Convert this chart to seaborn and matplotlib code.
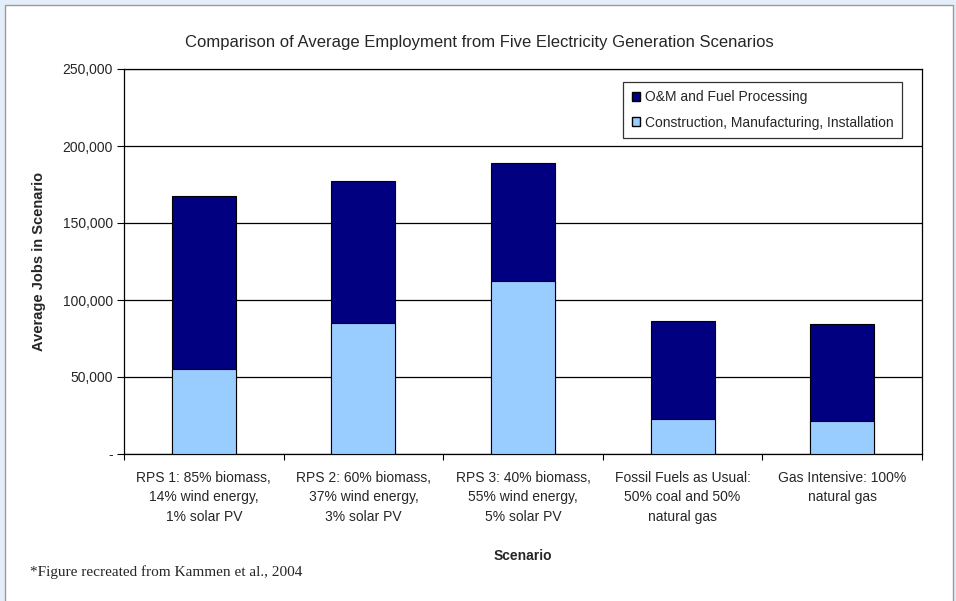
import numpy as np
import pandas as pd
import seaborn as sns
import matplotlib.pyplot as plt
from matplotlib.patches import Rectangle, Patch
from matplotlib.ticker import FuncFormatter

# values (jobs)
scenarios = ["RPS 1: 85% biomass,\n14% wind energy,\n1% solar PV",
             "RPS 2: 60% biomass,\n37% wind energy,\n3% solar PV",
             "RPS 3: 40% biomass,\n55% wind energy,\n5% solar PV",
             "Fossil Fuels as Usual:\n50% coal and 50%\nnatural gas",
             "Gas Intensive: 100%\nnatural gas"]
construction = [55200, 85000, 112300, 22700, 21400]
om_fuel = [112300, 92300, 76700, 63700, 63000]

df = pd.DataFrame({"Scenario": scenarios,
                   "Construction": construction,
                   "OM": om_fuel})
df["Total"] = df["Construction"] + df["OM"]

sns.set_style("white")
plt.rcParams['font.family'] = ['Liberation Sans', 'DejaVu Sans']

fig = plt.figure(figsize=(9.56, 6.01), dpi=100)
fig.patch.set_facecolor("#E4EEF8")
# white page with grey border
fig.add_artist(Rectangle((5 / 956, -0.01), 948 / 956, 596 / 601 + 0.01, transform=fig.transFigure,
                         facecolor="white", edgecolor="#9A9A9A", linewidth=1, zorder=-5))

ax = fig.add_axes([124 / 956, 1 - 454 / 601, 798 / 956, 385 / 601])
ax.set_zorder(1)
dark = "#000080"
light = "#99CCFF"
sns.barplot(data=df, x="Scenario", y="Total", color=dark, edgecolor="black",
            linewidth=0.8, width=0.4, saturation=1, ax=ax, zorder=3)
sns.barplot(data=df, x="Scenario", y="Construction", color=light, edgecolor="black",
            linewidth=0.8, width=0.4, saturation=1, ax=ax, zorder=3)

ax.set_ylim(0, 250000)
ax.set_xlim(-0.5, 4.5)
ax.set_yticks(np.arange(0, 250001, 50000))
ax.yaxis.set_major_formatter(FuncFormatter(lambda v, p: "-" if v == 0 else f"{int(v):,}"))
ax.yaxis.grid(True, color="black", linewidth=0.9, zorder=0)
ax.set_axisbelow(True)
for s in ax.spines.values():
    s.set_color("black")
    s.set_linewidth(0.9)

ax.tick_params(axis="y", which="major", direction="out", length=5, width=0.8,
               color="black", labelsize=10, pad=3, left=True)
ax.tick_params(axis="x", which="major", length=0, labelsize=10, pad=12)
ax.set_xticks(np.arange(-0.5, 5), minor=True)
ax.tick_params(axis="x", which="minor", direction="out", length=4, width=0.8,
               color="black", bottom=True)
for lab in ax.get_xticklabels():
    lab.set_linespacing(1.5)

ax.set_xlabel("Scenario", fontsize=10, fontweight="bold", labelpad=18)
ax.set_ylabel("Average Jobs in Scenario", fontsize=10.5, fontweight="bold", labelpad=12)
fig.text(0.501, 1 - 43 / 601,
         "Comparison of Average Employment from Five Electricity Generation Scenarios",
         fontsize=12, ha="center", va="center")

handles = [Patch(facecolor=dark, edgecolor="black", label="O&M and Fuel Processing"),
           Patch(facecolor=light, edgecolor="black", label="Construction, Manufacturing, Installation")]
leg = ax.legend(handles=handles, loc="upper right", bbox_to_anchor=(0.9755, 0.966),
                fontsize=10, frameon=True, fancybox=False, handlelength=0.6, handleheight=0.6,
                handletextpad=0.4, labelspacing=0.8, borderpad=0.6, borderaxespad=0)
leg.get_frame().set_edgecolor("black")
leg.get_frame().set_linewidth(0.9)

fig.text(30 / 956, 1 - 572 / 601, "*Figure recreated from Kammen et al., 2004",
         fontsize=11, family=["Liberation Serif", "DejaVu Serif"], va="center")

fig.savefig("out.png", dpi=100, facecolor=fig.get_facecolor())
